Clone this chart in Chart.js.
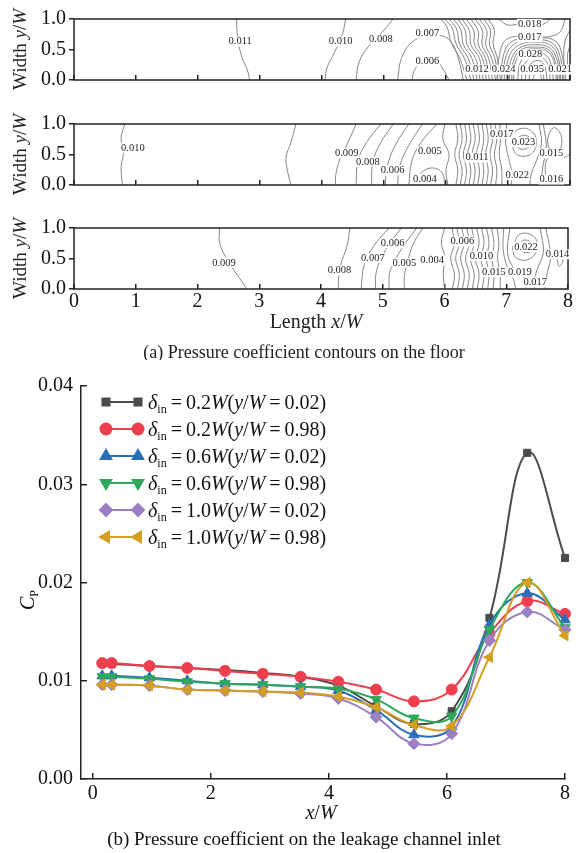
<!DOCTYPE html>
<html>
<head>
<meta charset="utf-8">
<script src="https://cdn.jsdelivr.net/npm/chart.js@4.4.1/dist/chart.umd.min.js"></script>
<style>
  html, body { margin: 0; padding: 0; background: #fff; }
  #wrap { position: relative; width: 579px; height: 853px; overflow: hidden; }
  canvas { position: absolute; left: 0; }
</style>
</head>
<body>
<div id="wrap">
  <canvas id="floor1" width="579" height="100" style="top:0px"></canvas>
  <canvas id="floor2" width="579" height="100" style="top:100px"></canvas>
  <canvas id="floor3" width="579" height="160" style="top:200px"></canvas>
  <canvas id="inlet" width="579" height="493" style="top:360px"></canvas>
</div>
<script>
const SERIF = '"Liberation Serif", "Times New Roman", serif'

// (a) floor contours: each line is a list of [x/W, y/W] points
const floorTicksX = [0, 1, 2, 3, 4, 5, 6, 7, 8]
const floorTicksY = [0, 0.5, 1]

const floor1Lines = [
  [[2.62, 1], [2.64, 0.7], [2.7, 0.4], [2.8, 0.15], [2.83, 0]],
  [[4.38, 1], [4.33, 0.75], [4.2, 0.45], [4.08, 0.2], [4.05, 0]],
  [[5.15, 1], [5.0, 0.82], [4.75, 0.55], [4.6, 0.3], [4.55, 0]],
  [[5.22, 0], [5.28, 0.35], [5.45, 0.62], [5.7, 0.72], [5.95, 0.72], [6.1, 0.6], [6.2, 0.35], [6.28, 0]],
  [[5.45, 0], [5.5, 0.18], [5.65, 0.3], [5.85, 0.3], [5.95, 0.18], [6.05, 0]],
  [[5.92, 1], [6.02, 0.86], [6.08, 0.62], [6.22, 0.36], [6.34, 0]],
  [[5.98, 1], [6.1, 0.85], [6.16, 0.6], [6.3, 0.35], [6.4, 0]],
  [[6.05, 1], [6.17, 0.84], [6.22, 0.59], [6.36, 0.35], [6.45, 0]],
  [[6.12, 1], [6.24, 0.82], [6.28, 0.58], [6.42, 0.35], [6.5, 0]],
  [[6.19, 1], [6.31, 0.81], [6.34, 0.58], [6.48, 0.35], [6.55, 0]],
  [[6.26, 1], [6.38, 0.8], [6.4, 0.58], [6.54, 0.35], [6.6, 0]],
  [[6.33, 1], [6.45, 0.8], [6.46, 0.58], [6.59, 0.35], [6.65, 0]],
  [[6.4, 1], [6.52, 0.8], [6.52, 0.58], [6.64, 0.35], [6.7, 0]],
  [[6.47, 1], [6.59, 0.8], [6.58, 0.58], [6.69, 0.35], [6.75, 0]],
  [[6.54, 1], [6.66, 0.8], [6.64, 0.58], [6.74, 0.35], [6.8, 0]],
  [[6.61, 1], [6.72, 0.81], [6.7, 0.59], [6.79, 0.35], [6.84, 0]],
  [[6.68, 1], [6.78, 0.82], [6.76, 0.6], [6.83, 0.35], [6.88, 0]],
  [[6.82, 0], [6.86, 0.4], [6.96, 0.65], [7.2, 0.72], [7.45, 0.7], [7.7, 0.72], [7.85, 0.8], [7.92, 1]],
  [[6.85, 1], [7.0, 0.9], [7.2, 0.92], [7.45, 0.88], [7.6, 0.93], [7.68, 1]],
  [[6.9, 0], [6.92, 0.38], [7.06, 0.63], [7.45, 0.69], [7.76, 0.64], [7.88, 0.38], [7.9, 0]],
  [[6.94, 0], [6.96, 0.36], [7.12, 0.6], [7.45, 0.66], [7.72, 0.6], [7.85, 0.35], [7.88, 0]],
  [[6.98, 0], [7.0, 0.33], [7.15, 0.56], [7.45, 0.62], [7.7, 0.56], [7.82, 0.33], [7.85, 0]],
  [[7.02, 0], [7.04, 0.3], [7.18, 0.52], [7.45, 0.58], [7.68, 0.52], [7.8, 0.3], [7.83, 0]],
  [[7.06, 0], [7.08, 0.28], [7.2, 0.49], [7.45, 0.54], [7.66, 0.49], [7.77, 0.28], [7.8, 0]],
  [[7.09, 0], [7.11, 0.26], [7.23, 0.46], [7.45, 0.51], [7.65, 0.46], [7.75, 0.26], [7.78, 0]],
  [[7.16, 0], [7.18, 0.23], [7.28, 0.4], [7.46, 0.45], [7.62, 0.4], [7.7, 0.23], [7.73, 0]],
  [[7.22, 0], [7.24, 0.2], [7.33, 0.34], [7.46, 0.39], [7.59, 0.34], [7.66, 0.2], [7.68, 0]],
  [[7.28, 0], [7.3, 0.16], [7.38, 0.28], [7.47, 0.32], [7.56, 0.28], [7.61, 0.16], [7.63, 0]],
  [[7.34, 0], [7.36, 0.12], [7.47, 0.23], [7.56, 0.12], [7.58, 0]],
  [[7.4, 0], [7.42, 0.07], [7.48, 0.13], [7.53, 0.07], [7.54, 0]],
  [[8, 0.82], [7.92, 0.64], [7.9, 0.36], [7.93, 0]],
  [[8, 0.56], [7.96, 0.42], [7.97, 0.2], [8, 0.08]]
]
const floor1Labels = [
  ['0.011', 2.68, 0.63], ['0.010', 4.3, 0.63], ['0.008', 4.95, 0.67], ['0.007', 5.7, 0.76],
  ['0.006', 5.7, 0.3], ['0.018', 7.35, 0.92], ['0.017', 7.35, 0.7], ['0.028', 7.36, 0.42],
  ['0.012', 6.5, 0.17], ['0.024', 6.93, 0.17], ['0.035', 7.39, 0.17], ['0.021', 7.84, 0.17]
]

const floor2Lines = [
  [[0.82, 1], [0.76, 0.78], [0.8, 0.55], [0.76, 0.3], [0.78, 0]],
  [[3.58, 1], [3.5, 0.7], [3.42, 0.45], [3.45, 0.2], [3.5, 0]],
  [[4.55, 1], [4.42, 0.7], [4.28, 0.4], [4.22, 0.15], [4.22, 0]],
  [[4.95, 1], [4.72, 0.7], [4.58, 0.4], [4.55, 0]],
  [[5.15, 1], [4.95, 0.7], [4.82, 0.38], [4.8, 0]],
  [[5.4, 1], [5.18, 0.65], [5.05, 0.3], [5.02, 0]],
  [[5.62, 1], [5.4, 0.65], [5.25, 0.3], [5.22, 0]],
  [[5.85, 1], [5.6, 0.7], [5.45, 0.4], [5.4, 0]],
  [[5.52, 0], [5.6, 0.2], [5.78, 0.28], [5.94, 0.2], [5.98, 0]],
  [[5.98, 1], [5.95, 0.75], [6.05, 0.5], [6.0, 0.25], [6.03, 0]],
  [[6.16, 1], [6.19, 0.75], [6.14, 0.5], [6.19, 0.25], [6.16, 0]],
  [[6.23, 1], [6.26, 0.75], [6.21, 0.5], [6.26, 0.25], [6.23, 0]],
  [[6.3, 1], [6.33, 0.75], [6.28, 0.5], [6.33, 0.25], [6.3, 0]],
  [[6.37, 1], [6.4, 0.75], [6.35, 0.5], [6.4, 0.25], [6.37, 0]],
  [[6.44, 1], [6.47, 0.75], [6.42, 0.5], [6.47, 0.25], [6.44, 0]],
  [[6.51, 1], [6.54, 0.75], [6.49, 0.5], [6.54, 0.25], [6.51, 0]],
  [[6.58, 1], [6.61, 0.75], [6.57, 0.5], [6.61, 0.25], [6.58, 0]],
  [[6.65, 1], [6.68, 0.75], [6.64, 0.5], [6.68, 0.25], [6.65, 0]],
  [[6.72, 1], [6.75, 0.75], [6.71, 0.5], [6.75, 0.25], [6.72, 0]],
  [[6.79, 1], [6.82, 0.75], [6.78, 0.5], [6.82, 0.25], [6.8, 0]],
  [[6.87, 1], [6.88, 0.75], [6.86, 0.5], [6.9, 0.25], [6.9, 0]],
  [[6.98, 1], [6.96, 0.7], [7.02, 0.4], [7.06, 0.2], [7.05, 0]],
  [[7.12, 0.7], [7.2, 0.8], [7.32, 0.8], [7.38, 0.7], [7.3, 0.6], [7.18, 0.6], [7.12, 0.7]],
  [[7.05, 0.7], [7.14, 0.9], [7.36, 0.9], [7.46, 0.7], [7.36, 0.5], [7.14, 0.5], [7.05, 0.7]],
  [[7.5, 1], [7.54, 0.68], [7.46, 0.4], [7.38, 0.2], [7.35, 0]],
  [[7.57, 1], [7.62, 0.6], [7.56, 0.3], [7.54, 0]],
  [[7.7, 0.5], [7.64, 0.74], [7.74, 0.94], [7.86, 0.8], [7.83, 0.56], [7.7, 0.5]],
  [[7.64, 0], [7.6, 0.3], [7.66, 0.45], [7.9, 0.45], [8, 0.5]]
]
const floor2Labels = [
  ['0.010', 0.95, 0.61], ['0.009', 4.4, 0.52], ['0.008', 4.74, 0.38], ['0.006', 5.14, 0.24],
  ['0.005', 5.74, 0.55], ['0.004', 5.66, 0.1], ['0.011', 6.5, 0.45], ['0.017', 6.9, 0.84],
  ['0.023', 7.25, 0.7], ['0.015', 7.7, 0.52], ['0.022', 7.15, 0.16], ['0.016', 7.7, 0.09]
]

const floor3Lines = [
  [[2.36, 1], [2.36, 0.75], [2.5, 0.45], [2.7, 0.15], [2.8, 0]],
  [[4.47, 1], [4.42, 0.7], [4.32, 0.4], [4.28, 0.12], [4.29, 0]],
  [[5.1, 1], [4.85, 0.7], [4.7, 0.4], [4.65, 0]],
  [[5.3, 1], [5.05, 0.65], [4.9, 0.3], [4.88, 0]],
  [[5.55, 1], [5.3, 0.65], [5.12, 0.3], [5.1, 0]],
  [[5.65, 1], [5.5, 0.75], [5.4, 0.45], [5.35, 0.2], [5.35, 0]],
  [[5.72, 0.42], [5.77, 0.56], [5.83, 0.42]],
  [[6.0, 1], [5.95, 0.75], [6.0, 0.55], [5.98, 0.25], [6.0, 0]],
  [[6.12, 1], [6.16, 0.75], [6.1, 0.5], [6.16, 0.25], [6.13, 0]],
  [[6.2, 1], [6.24, 0.75], [6.18, 0.5], [6.24, 0.25], [6.21, 0]],
  [[6.28, 1], [6.32, 0.75], [6.26, 0.5], [6.32, 0.25], [6.29, 0]],
  [[6.36, 1], [6.4, 0.75], [6.34, 0.5], [6.4, 0.25], [6.37, 0]],
  [[6.44, 1], [6.48, 0.75], [6.42, 0.5], [6.48, 0.25], [6.45, 0]],
  [[6.52, 1], [6.56, 0.75], [6.5, 0.5], [6.56, 0.25], [6.53, 0]],
  [[6.6, 1], [6.64, 0.75], [6.59, 0.5], [6.64, 0.25], [6.61, 0]],
  [[6.68, 1], [6.72, 0.75], [6.68, 0.5], [6.72, 0.25], [6.7, 0]],
  [[6.76, 1], [6.8, 0.75], [6.77, 0.5], [6.8, 0.25], [6.79, 0]],
  [[6.85, 1], [6.88, 0.75], [6.86, 0.5], [6.9, 0.25], [6.9, 0]],
  [[6.96, 1], [6.95, 0.65], [7.02, 0.35], [7.12, 0.15], [7.15, 0]],
  [[7.2, 0.7], [7.28, 0.8], [7.4, 0.76], [7.41, 0.63], [7.28, 0.6], [7.2, 0.7]],
  [[7.1, 0.68], [7.22, 0.9], [7.45, 0.86], [7.5, 0.65], [7.35, 0.48], [7.15, 0.52], [7.1, 0.68]],
  [[7.06, 1], [7.02, 0.6], [7.12, 0.34], [7.28, 0.18], [7.32, 0]],
  [[7.55, 1], [7.6, 0.6], [7.5, 0.32], [7.45, 0.12], [7.46, 0]],
  [[7.64, 1], [7.7, 0.7], [7.72, 0.5], [7.66, 0.25], [7.62, 0]],
  [[7.82, 0.5], [7.85, 0.63], [7.92, 0.5], [7.86, 0.37], [7.82, 0.5]]
]
const floor3Labels = [
  ['0.009', 2.43, 0.43], ['0.008', 4.3, 0.3], ['0.007', 4.84, 0.51], ['0.006', 5.16, 0.75],
  ['0.005', 5.35, 0.43], ['0.004', 5.8, 0.47], ['0.006', 6.29, 0.78], ['0.010', 6.6, 0.54],
  ['0.015', 6.8, 0.28], ['0.019', 7.22, 0.27], ['0.022', 7.32, 0.69], ['0.014', 7.83, 0.57],
  ['0.017', 7.47, 0.11]
]

// (b) inlet pressure coefficient
const inletX = [0.16, 0.32, 0.96, 1.6, 2.24, 2.88, 3.52, 4.16, 4.8, 5.44, 6.08, 6.72, 7.36, 8.0]
const cpW02y002 = [0.0117, 0.0117, 0.0115, 0.0113, 0.0111, 0.0108, 0.0104, 0.0095, 0.0074, 0.0056, 0.0069, 0.0164, 0.0332, 0.0225]
const cpW02y098 = [0.0118, 0.0118, 0.0115, 0.0113, 0.0110, 0.0107, 0.0104, 0.0099, 0.0091, 0.0079, 0.0091, 0.0148, 0.0181, 0.0168]
const cpW06y002 = [0.0105, 0.0105, 0.0103, 0.0100, 0.0097, 0.0096, 0.0094, 0.0090, 0.0070, 0.0045, 0.0053, 0.0157, 0.0189, 0.0162]
const cpW06y098 = [0.0104, 0.0104, 0.0102, 0.0099, 0.0097, 0.0096, 0.0094, 0.0092, 0.0081, 0.0062, 0.0064, 0.0152, 0.0200, 0.0154]
const cpW10y002 = [0.0096, 0.0096, 0.0095, 0.0091, 0.0090, 0.0089, 0.0087, 0.0082, 0.0063, 0.0036, 0.0046, 0.0141, 0.0170, 0.0152]
const cpW10y098 = [0.0096, 0.0096, 0.0095, 0.0091, 0.0090, 0.0089, 0.0088, 0.0084, 0.0073, 0.0055, 0.0054, 0.0124, 0.0200, 0.0146]
const inletTicksX = [0, 2, 4, 6, 8]
const inletTicksY = [0, 0.01, 0.02, 0.03, 0.04]
const seriesDelta = ['0.2', '0.2', '0.6', '0.6', '1.0', '1.0']
const seriesYW = ['0.02', '0.98', '0.02', '0.98', '0.02', '0.98']

const fontFor = (size, st) => {
  if (st === 's') return Math.round(size * 0.62) + 'px ' + SERIF
  return (st === 'i' ? 'italic ' : '') + size + 'px ' + SERIF
}

// mixed italic / subscript text on one baseline
const drawRich = (ctx, parts, x, y, size, align) => {
  const widths = parts.map(([t, st]) => { ctx.font = fontFor(size, st); return ctx.measureText(t).width })
  const total = widths.reduce((a, b) => a + b, 0)
  let cx = align === 'center' ? x - total / 2 : x
  ctx.textAlign = 'left'
  ctx.textBaseline = 'alphabetic'
  parts.forEach(([t, st], i) => {
    ctx.font = fontFor(size, st)
    ctx.fillText(t, cx, st === 's' ? y + size * 0.22 : y)
    cx += widths[i]
  })
}

const widthTitle = [['Width ', 'n'], ['y', 'i'], ['/', 'n'], ['W', 'i']]

const contourChart = (id, lines, labels, area, canvasH, withAxisText) => {
  const el = document.getElementById(id)
  const overlay = {
    id: 'overlay',
    afterDraw(chart) {
      const { ctx, chartArea: a, scales } = chart
      ctx.save()
      ctx.strokeStyle = '#222'
      ctx.lineWidth = 1.5
      ctx.strokeRect(a.left, a.top, a.right - a.left, a.bottom - a.top)
      ctx.font = '10.5px ' + SERIF
      ctx.textAlign = 'center'
      ctx.textBaseline = 'middle'
      labels.forEach(([t, x, y]) => {
        const px = scales.x.getPixelForValue(x)
        const py = scales.y.getPixelForValue(y)
        const w = ctx.measureText(t).width
        ctx.fillStyle = '#fff'
        ctx.fillRect(px - w / 2 - 1, py - 5, w + 2, 10)
        ctx.fillStyle = '#222'
        ctx.fillText(t, px, py)
      })
      ctx.fillStyle = '#222'
      ctx.save()
      ctx.translate(26, (a.top + a.bottom) / 2)
      ctx.rotate(-Math.PI / 2)
      drawRich(ctx, widthTitle, 0, 0, 19, 'center')
      ctx.restore()
      if (withAxisText) {
        drawRich(ctx, [['Length ', 'n'], ['x', 'i'], ['/', 'n'], ['W', 'i']], 316, 128, 20, 'center')
        drawRich(ctx, [['(a) Pressure coefficient contours on the floor', 'n']], 304, 158, 18, 'center')
      }
      ctx.restore()
    }
  }
  return new Chart(el, {
    type: 'scatter',
    data: {
      datasets: lines.map((pts) => ({
        data: pts.map(([x, y]) => ({ x, y })),
        showLine: true,
        borderColor: '#858585',
        borderWidth: 1,
        pointRadius: 0,
        tension: 0.4
      }))
    },
    options: {
      responsive: false,
      animation: false,
      events: [],
      layout: { padding: { left: 0, right: 579 - area.right, top: area.top, bottom: 0 } },
      scales: {
        x: {
          type: 'linear', min: 0, max: 8,
          afterBuildTicks: (s) => { s.ticks = floorTicksX.map((v) => ({ value: v })) },
          afterFit: (s) => { s.height = canvasH - area.bottom },
          grid: { drawOnChartArea: false, tickLength: -5, color: '#222', lineWidth: 1.5 },
          border: { display: false },
          ticks: { display: withAxisText, color: '#111', font: { family: SERIF, size: 20 }, padding: 6, maxRotation: 0 }
        },
        y: {
          type: 'linear', min: 0, max: 1,
          afterBuildTicks: (s) => { s.ticks = floorTicksY.map((v) => ({ value: v })) },
          afterFit: (s) => { s.width = area.left },
          grid: { drawOnChartArea: false, tickLength: 5, color: '#222', lineWidth: 1.5 },
          border: { display: false },
          ticks: { color: '#111', font: { family: SERIF, size: 20 }, padding: 3, callback: (v) => v.toFixed(1) }
        }
      },
      plugins: { legend: { display: false }, tooltip: { enabled: false } }
    },
    plugins: [overlay]
  })
}

contourChart('floor1', floor1Lines, floor1Labels, { left: 74, right: 570, top: 19, bottom: 80 }, 100, false)
contourChart('floor2', floor2Lines, floor2Labels, { left: 74, right: 570, top: 24, bottom: 85 }, 100, false)
contourChart('floor3', floor3Lines, floor3Labels, { left: 74, right: 570, top: 28, bottom: 89 }, 160, true)

const inletSeries = [
  { values: cpW02y002, color: '#4b4b4b', style: 'rect', rot: 0, r: 5 },
  { values: cpW02y098, color: '#ee3f4e', style: 'circle', rot: 0, r: 5.5 },
  { values: cpW06y002, color: '#2a6db8', style: 'triangle', rot: 0, r: 6 },
  { values: cpW06y098, color: '#2ea85c', style: 'triangle', rot: 180, r: 6 },
  { values: cpW10y002, color: '#9b80c4', style: 'rectRot', rot: 0, r: 6 },
  { values: cpW10y098, color: '#d49f22', style: 'triangle', rot: -90, r: 6 }
]

const inletOverlay = {
  id: 'inletOverlay',
  afterDraw(chart) {
    const { ctx } = chart
    ctx.save()
    ctx.fillStyle = '#111'
    inletSeries.forEach((s, i) => {
      const y = 42 + i * 27
      ctx.strokeStyle = s.color
      ctx.lineWidth = 2
      ctx.beginPath()
      ctx.moveTo(106, y)
      ctx.lineTo(138, y)
      ctx.stroke()
      ctx.fillStyle = s.color
      const opts = { pointStyle: s.style, radius: s.r, rotation: s.rot, borderWidth: 1 }
      Chart.helpers.drawPoint(ctx, opts, 106, y)
      Chart.helpers.drawPoint(ctx, opts, 138, y)
      ctx.fillStyle = '#111'
      drawRich(ctx, [['δ', 'i'], ['in', 's'], ['\u2009=\u2009' + seriesDelta[i], 'n'], ['W', 'i'], ['(', 'n'], ['y', 'i'], ['/', 'n'], ['W', 'i'], ['\u2009=\u2009' + seriesYW[i] + ')', 'n']], 148, y + 7, 20, 'left')
    })
    drawRich(ctx, [['x', 'i'], ['/', 'n'], ['W', 'i']], 321, 459, 20, 'center')
    drawRich(ctx, [['(b) Pressure coefficient on the leakage channel inlet', 'n']], 304, 485, 19, 'center')
    ctx.save()
    ctx.translate(34, 240)
    ctx.rotate(-Math.PI / 2)
    drawRich(ctx, [['C', 'i'], ['P', 's']], 0, 0, 20, 'center')
    ctx.restore()
    ctx.restore()
  }
}

new Chart(document.getElementById('inlet'), {
  type: 'line',
  data: {
    datasets: inletSeries.map((s, i) => ({
      data: inletX.map((x, k) => ({ x, y: s.values[k] })),
      borderColor: s.color,
      backgroundColor: s.color,
      borderWidth: 2,
      pointStyle: s.style,
      rotation: s.rot,
      pointRadius: s.r,
      pointBorderWidth: 1,
      tension: 0.4,
      clip: false,
      order: 6 - i
    }))
  },
  options: {
    responsive: false,
    animation: false,
    events: [],
    layout: { padding: { left: 0, right: 9, top: 25, bottom: 0 } },
    scales: {
      x: {
        type: 'linear', min: -0.2, max: 8,
        afterBuildTicks: (s) => { s.ticks = inletTicksX.map((v) => ({ value: v })) },
        afterFit: (s) => { s.height = 74 },
        grid: { drawOnChartArea: false, tickLength: -6, color: '#222', lineWidth: 1.5 },
        border: { display: true, color: '#222', width: 1.5 },
        ticks: { color: '#111', font: { family: SERIF, size: 20 }, padding: 9, maxRotation: 0 }
      },
      y: {
        type: 'linear', min: 0, max: 0.04,
        afterBuildTicks: (s) => { s.ticks = inletTicksY.map((v) => ({ value: v })) },
        afterFit: (s) => { s.width = 81 },
        grid: { drawOnChartArea: false, tickLength: -6, color: '#222', lineWidth: 1.5 },
        border: { display: true, color: '#222', width: 1.5 },
        ticks: { color: '#111', font: { family: SERIF, size: 20 }, padding: 14, callback: (v) => v.toFixed(2) }
      }
    },
    plugins: { legend: { display: false }, tooltip: { enabled: false } }
  },
  plugins: [inletOverlay]
})
</script>
</body>
</html>
